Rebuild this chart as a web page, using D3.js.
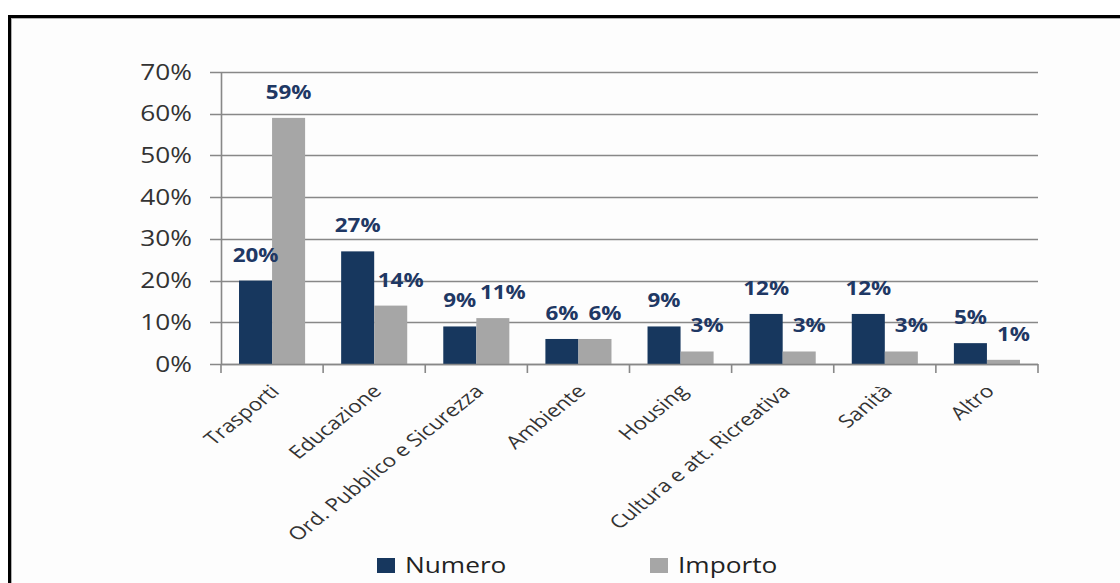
<!DOCTYPE html>
<html>
<head>
<meta charset="utf-8">
<script src="https://cdn.jsdelivr.net/npm/d3@7"></script>
<style>
  html, body { margin: 0; padding: 0; background: #ffffff; }
  svg { display: block; }
</style>
</head>
<body>
<svg id="chart" width="1120" height="583"></svg>
<script>
// Share of projects by sector: number of projects vs. amount
const categories = ["Trasporti", "Educazione", "Ord. Pubblico e Sicurezza", "Ambiente",
                    "Housing", "Cultura e att. Ricreativa", "Sanità", "Altro"];
const seriesNames = ["Numero", "Importo"];
const numero  = [20, 27, 9, 6, 9, 12, 12, 5];
const importo = [59, 14, 11, 6, 3, 3, 3, 1];
const yTicks = [0, 10, 20, 30, 40, 50, 60, 70];

const colors = { Numero: "#17375E", Importo: "#A6A6A6" };
const FONT = "'Open Sans', 'Liberation Sans', sans-serif";
const SX = 1.25;   // horizontal stretch applied to all text

const svg = d3.select("#chart");

// chart frame
svg.append("rect").attr("x", 0).attr("y", 0).attr("width", 1120).attr("height", 583).attr("fill", "#ffffff");
svg.append("rect").attr("x", 9.5).attr("y", 16.5).attr("width", 1200).attr("height", 700)
   .attr("fill", "#fdfdfd").attr("stroke", "#000").attr("stroke-width", 3);
svg.append("line").attr("x1", 11.5).attr("x2", 11.5).attr("y1", 18).attr("y2", 583)
   .attr("stroke", "#b0b0b0").attr("stroke-width", 1);
svg.append("line").attr("x1", 11).attr("x2", 1120).attr("y1", 18.5).attr("y2", 18.5)
   .attr("stroke", "#b0b0b0").attr("stroke-width", 1);

const plot = { left: 221, right: 1038, top: 72, bottom: 364 };

const x0 = d3.scaleBand().domain(categories).range([plot.left, plot.right])
  .paddingInner(0.353).paddingOuter(0.1765);
const x1 = d3.scaleBand().domain(seriesNames).range([0, x0.bandwidth()]);
const y = d3.scaleLinear().domain([0, 70]).range([plot.bottom, plot.top]);

// horizontal gridlines (with outside tick stubs)
svg.append("g").selectAll("line").data(yTicks).join("line")
  .attr("x1", plot.left - 11).attr("x2", plot.right)
  .attr("y1", d => Math.round(y(d)) + 0.5).attr("y2", d => Math.round(y(d)) + 0.5)
  .attr("stroke", "#888888").attr("stroke-width", 1.6);

// y axis line
svg.append("line").attr("x1", plot.left + 0.5).attr("x2", plot.left + 0.5)
  .attr("y1", plot.top).attr("y2", plot.bottom)
  .attr("stroke", "#888888").attr("stroke-width", 1.6);

// y tick labels
svg.append("g").selectAll("text").data(yTicks).join("text")
  .attr("transform", d => `translate(${plot.left - 29},${y(d)}) scale(${SX},1)`)
  .attr("dy", "0.36em")
  .attr("text-anchor", "end")
  .attr("font-family", FONT).attr("font-size", 21)
  .attr("fill", "#333333")
  .text(d => d + "%");

// bars
const rows = categories.map((c, i) => ({ cat: c, values: [
  { key: "Numero", value: numero[i] },
  { key: "Importo", value: importo[i] } ] }));

const groups = svg.append("g").selectAll("g").data(rows).join("g")
  .attr("transform", d => `translate(${x0(d.cat)},0)`);

groups.selectAll("rect").data(d => d.values).join("rect")
  .attr("x", d => x1(d.key))
  .attr("width", x1.bandwidth())
  .attr("y", d => y(d.value))
  .attr("height", d => plot.bottom - y(d.value))
  .attr("fill", d => colors[d.key]);

// value labels
groups.selectAll("text").data(d => d.values.map(v => ({ ...v, cat: d.cat }))).join("text")
  .attr("transform", d => {
    const nudge = (d.key === "Importo" && d.cat !== "Trasporti") ? 10 : 0;
    return `translate(${x1(d.key) + x1.bandwidth() / 2 + nudge},${y(d.value) - 19}) scale(1.18,1)`;
  })
  .attr("text-anchor", "middle")
  .attr("font-family", FONT).attr("font-size", 19).attr("font-weight", "bold")
  .attr("fill", "#1F3864")
  .text(d => d.value + "%");

// x axis line and category boundary ticks
svg.append("line").attr("x1", plot.left).attr("x2", plot.right)
  .attr("y1", plot.bottom + 0.5).attr("y2", plot.bottom + 0.5)
  .attr("stroke", "#888888").attr("stroke-width", 1.6);
const step = x0.step();
const boundaries = d3.range(categories.length + 1).map(i => plot.left + i * step);
svg.append("g").selectAll("line").data(boundaries).join("line")
  .attr("x1", d => d).attr("x2", d => d)
  .attr("y1", plot.bottom).attr("y2", plot.bottom + 9)
  .attr("stroke", "#888888").attr("stroke-width", 1.6);

// category labels, rotated
svg.append("g").selectAll("text").data(categories).join("text")
  .attr("transform", d => `translate(${x0(d) + x0.bandwidth() / 2 + 3},${plot.bottom + 24}) scale(${SX},1) rotate(-45)`)
  .attr("text-anchor", "end")
  .attr("dy", "0.35em")
  .attr("font-family", FONT).attr("font-size", 18)
  .attr("fill", "#333333")
  .text(d => d);

// legend
const legendPos = [ { key: "Numero", x: 377 }, { key: "Importo", x: 650 } ];
const legend = svg.append("g").selectAll("g").data(legendPos).join("g")
  .attr("transform", d => `translate(${d.x},558)`);
legend.append("rect").attr("width", 18).attr("height", 15).attr("fill", d => colors[d.key]);
legend.append("text")
  .attr("transform", `translate(28,15) scale(${SX},1)`)
  .attr("font-family", FONT).attr("font-size", 21)
  .attr("fill", "#222")
  .text(d => d.key);
</script>
</body>
</html>
